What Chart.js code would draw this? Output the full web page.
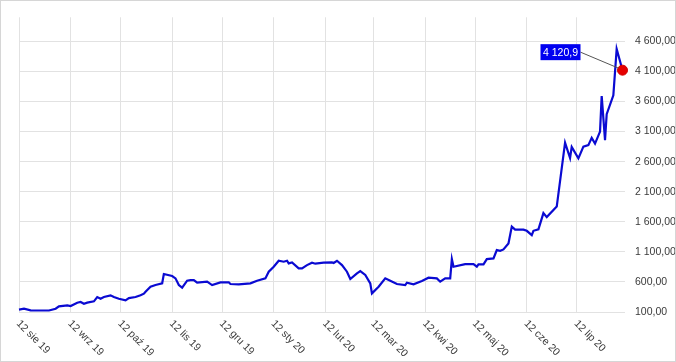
<!DOCTYPE html>
<html><head><meta charset="utf-8">
<script src="https://cdn.jsdelivr.net/npm/chart.js@4"></script>
<style>
html,body{margin:0;padding:0;background:#fff;}
#wrap{position:relative;width:676px;height:362px;box-sizing:border-box;border:1px solid #d6d6d6;}
canvas{display:block;}
</style></head><body>
<div id="wrap"><canvas id="c" width="674" height="360"></canvas></div>
<script>
// Days since 12 Aug 2019
const days = [0,3,7,18,22,24,29,31,35,37,39,41,45,47,49,51,55,57,60,64,66,70,73,75,76,79,82,86,87,92,94,96,98,101,103,105,107,113,116,121,126,127,132,139,143,148,150,153,156,159,161,162,164,168,170,173,176,178,183,188,189,191,194,197,199,203,205,208,211,212,216,220,223,227,232,233,237,242,246,251,253,256,259,260,261,268,273,275,276,279,281,285,287,289,291,294,296,298,303,305,308,309,312,315,317,323,328,331,332,336,339,342,344,346,349,350,352,353,357,359,362.5];
const values = [140,155,128,125,155,195,211,200,255,266,238,255,277,349,321,349,377,349,321,294,332,349,377,404,437,520,548,577,731,698,659,548,504,620,631,631,587,604,548,593,593,565,560,577,620,659,770,853,952,936,952,909,925,825,825,880,920,903,920,925,915,952,880,770,648,743,781,715,577,410,520,660,620,565,548,587,560,615,670,659,604,659,659,980,853,897,897,853,892,892,980,991,1129,1118,1141,1240,1520,1470,1470,1450,1379,1450,1473,1745,1678,1853,2915,2660,2845,2655,2850,2874,2995,2900,3100,3690,2957,3390,3703,4475,4120.9];
const monthTicks = [0,31,61,92,122,153,184,213,244,274,305,335];
const monthLabels = ['12 sie 19','12 wrz 19','12 paź 19','12 lis 19','12 gru 19','12 sty 20','12 lut 20','12 mar 20','12 kwi 20','12 maj 20','12 cze 20','12 lip 20'];
const yTicks = [100,600,1100,1600,2100,2600,3100,3600,4100,4600];
const lastLabel = '4 120,9';

const FONT = '"Liberation Sans", Arial, sans-serif';
function fmt(v){
  const parts = v.toFixed(2).split('.');
  const intp = parts[0].replace(/\B(?=(\d{3})+(?!\d))/g, ' ');
  return intp + ',' + parts[1];
}
const pts = days.map((d,i)=>({x:d,y:values[i]}));
const last = pts.length-1;

const xLabelPlugin = {
  id:'xlabels',
  afterDraw(chart){
    const ctx = chart.ctx, xs = chart.scales.x, bottom = chart.chartArea.bottom;
    ctx.save();
    ctx.font = '10.5px ' + FONT;
    ctx.fillStyle = '#3a3a3a';
    ctx.textAlign = 'left';
    ctx.textBaseline = 'middle';
    monthTicks.forEach((d,i)=>{
      const x = xs.getPixelForValue(d);
      ctx.save();
      ctx.translate(x-1, bottom+10);
      ctx.rotate(Math.PI/4);
      ctx.fillText(monthLabels[i],0,0);
      ctx.restore();
    });
    ctx.restore();
  }
};
const annPlugin = {
  id:'ann',
  afterDatasetsDraw(chart){
    const ctx = chart.ctx;
    const el = chart.getDatasetMeta(0).data[last];
    const px = el.x, py = el.y;
    const bw = 40, bh = 16;
    const bx = px - 42 - bw, by = py - 26;
    ctx.save();
    ctx.strokeStyle = '#555';
    ctx.lineWidth = 1;
    ctx.beginPath();
    ctx.moveTo(bx+bw, by+bh/2);
    ctx.lineTo(px-4, py-2);
    ctx.stroke();
    ctx.fillStyle = '#0000f0';
    ctx.fillRect(bx, by, bw, bh);
    ctx.fillStyle = '#ffffff';
    ctx.font = '10.5px ' + FONT;
    ctx.textAlign = 'center';
    ctx.textBaseline = 'middle';
    ctx.fillText(lastLabel, bx+bw/2, by+bh/2+0.5);
    ctx.restore();
  }
};

new Chart(document.getElementById('c'), {
  type:'line',
  data:{datasets:[{
    data: pts,
    borderColor:'#0a0ad2',
    borderWidth:2.2,
    tension:0,
    fill:false,
    clip:false,
    pointRadius: ctx => ctx.dataIndex === last ? 5 : 0,
    pointHoverRadius: 0,
    pointBackgroundColor:'#e60000',
    pointBorderColor:'#d00000',
    pointBorderWidth:1
  }]},
  options:{
    responsive:false,
    devicePixelRatio:1,
    animation:false,
    layout:{padding:{left:18,top:16,right:0,bottom:0}},
    plugins:{legend:{display:false},tooltip:{enabled:false}},
    scales:{
      x:{
        type:'linear', min:0, max:364,
        afterBuildTicks: s => { s.ticks = monthTicks.map(v=>({value:v})); },
        afterFit: s => { s.height = 49; },
        grid:{color:'#e2e2e2', lineWidth:1, drawTicks:false},
        border:{display:false},
        ticks:{display:false}
      },
      y:{
        position:'right', min:100, max:5000,
        afterBuildTicks: s => { s.ticks = yTicks.map(v=>({value:v})); },
        afterFit: s => { s.width = 50; },
        grid:{color:'#e2e2e2', lineWidth:1, drawTicks:false},
        border:{display:false},
        ticks:{padding:10, color:'#3a3a3a', font:{family:FONT, size:10.5}, callback: v => fmt(v)}
      }
    }
  },
  plugins:[xLabelPlugin, annPlugin]
});
</script>
</body></html>
